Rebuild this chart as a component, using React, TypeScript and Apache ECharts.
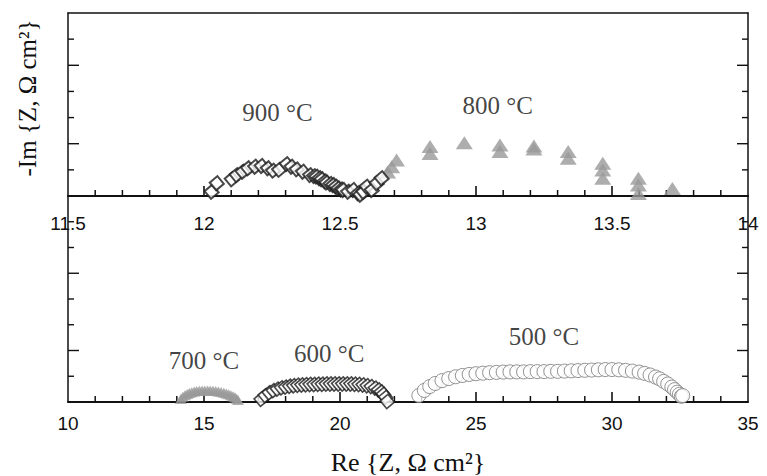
import React, { useEffect, useRef } from "react";
import * as echarts from "echarts";

// ---- Top panel (900 °C and 800 °C) ----
const re900 = [12.028, 12.047, 12.102, 12.12, 12.142, 12.162, 12.188, 12.212, 12.235, 12.254, 12.276, 12.304, 12.322, 12.341, 12.364, 12.39, 12.405, 12.414, 12.425, 12.433, 12.445, 12.451, 12.465, 12.475, 12.485, 12.494, 12.505, 12.512, 12.53, 12.549, 12.567, 12.575, 12.586, 12.598, 12.617, 12.635, 12.653];
const im900 = [0.16, 0.49, 0.64, 0.8, 0.93, 1.06, 1.12, 1.15, 1.06, 0.97, 1.0, 1.22, 1.12, 1.02, 0.93, 0.8, 0.76, 0.74, 0.68, 0.64, 0.56, 0.51, 0.46, 0.42, 0.36, 0.29, 0.25, 0.23, 0.16, 0.23, 0.1, 0.05, 0.16, 0.36, 0.23, 0.49, 0.68];

const re800 = [12.675, 12.69, 12.708, 12.831, 12.831, 12.957, 13.088, 13.088, 13.213, 13.213, 13.339, 13.339, 13.466, 13.466, 13.466, 13.597, 13.597, 13.597, 13.722];
const im800 = [0.92, 1.12, 1.38, 1.63, 1.89, 2.04, 1.7, 1.95, 1.8, 1.91, 1.44, 1.7, 0.68, 0.99, 1.25, 0.1, 0.42, 0.68, 0.29];

// ---- Bottom panel (700, 600, 500 °C) ----
const re700 = [14.15, 14.22, 14.3, 14.38, 14.46, 14.55, 14.64, 14.73, 14.83, 14.93, 15.03, 15.13, 15.23, 15.33, 15.43, 15.53, 15.63, 15.73, 15.82, 15.91, 15.99, 16.07, 16.14, 16.2, 16.25];
const im700 = [0.12, 0.2, 0.26, 0.31, 0.35, 0.38, 0.41, 0.43, 0.44, 0.45, 0.45, 0.45, 0.45, 0.44, 0.43, 0.41, 0.39, 0.36, 0.33, 0.3, 0.26, 0.22, 0.18, 0.13, 0.08];

const re600 = [17.1, 17.25, 17.4, 17.55, 17.7, 17.85, 18.0, 18.15, 18.3, 18.45, 18.6, 18.75, 18.9, 19.05, 19.2, 19.35, 19.5, 19.65, 19.8, 19.95, 20.1, 20.25, 20.4, 20.55, 20.7, 20.85, 21.0, 21.15, 21.3, 21.42, 21.52, 21.6, 21.68, 21.74];
const im600 = [0.1, 0.25, 0.36, 0.44, 0.5, 0.55, 0.58, 0.61, 0.63, 0.65, 0.66, 0.67, 0.68, 0.68, 0.69, 0.69, 0.7, 0.7, 0.7, 0.7, 0.7, 0.7, 0.7, 0.69, 0.68, 0.66, 0.63, 0.6, 0.54, 0.47, 0.39, 0.3, 0.18, 0.02];

const re500 = [22.9, 23.1, 23.3, 23.5, 23.75, 24.0, 24.25, 24.5, 24.75, 25.0, 25.25, 25.5, 25.75, 26.0, 26.25, 26.5, 26.75, 27.0, 27.25, 27.5, 27.75, 28.0, 28.25, 28.5, 28.75, 29.0, 29.25, 29.5, 29.75, 30.0, 30.25, 30.5, 30.75, 31.0, 31.2, 31.4, 31.6, 31.75, 31.9, 32.05, 32.2, 32.3, 32.4, 32.48, 32.55, 32.6];
const im500 = [0.25, 0.45, 0.6, 0.72, 0.83, 0.91, 0.98, 1.03, 1.07, 1.1, 1.12, 1.14, 1.15, 1.16, 1.17, 1.17, 1.17, 1.18, 1.18, 1.18, 1.19, 1.19, 1.2, 1.21, 1.22, 1.23, 1.24, 1.25, 1.26, 1.26, 1.25, 1.23, 1.2, 1.16, 1.11, 1.05, 0.97, 0.9, 0.8, 0.7, 0.58, 0.48, 0.38, 0.3, 0.22, 0.25];

// ---- Temperature annotations ----
const topNoteText = ["900 °C", "800 °C"];
const topNoteRe = [12.27, 13.08];
const topNoteIm = [3.2, 3.48];
const bottomNoteText = ["700 °C", "600 °C", "500 °C"];
const bottomNoteRe = [15.0, 19.6, 27.5];
const bottomNoteIm = [1.6, 1.88, 2.56];

// ---- Axis titles, ranges and tick values ----
const yTitle = "-Im {Z, Ω cm²}";
const xTitle = "Re {Z, Ω cm²}";
const topXRange = [11.5, 14];
const bottomXRange = [10, 35];
const topXMajor = [12, 12.5, 13, 13.5];
const topXMinor = [11.6, 11.7, 11.8, 11.9, 12.1, 12.2, 12.3, 12.4, 12.6, 12.7, 12.8, 12.9, 13.1, 13.2, 13.3, 13.4, 13.6, 13.7, 13.8, 13.9];
const bottomXMajor = [15, 20, 25, 30];
const bottomXMinor = [11, 12, 13, 14, 16, 17, 18, 19, 21, 22, 23, 24, 26, 27, 28, 29, 31, 32, 33, 34];
const topYMax = 7;
const bottomYMax = 8;
const yMajor = [2, 5];
const topYMinor = [1, 3, 4, 6];
const bottomYMinor = [1, 3, 4, 6, 7];

const zip = (xs: number[], ys: number[]) => xs.map((x, i) => [x, ys[i]]);

const SERIF = "'Liberation Serif', 'Times New Roman', serif";
const SANS = "'Liberation Sans', Arial, sans-serif";
const INK = "#111";

const lineOnly = (w: number) => ({ show: true, onZero: false, lineStyle: { color: INK, width: w } });

function yLines(gridIndex: number, max: number) {
  const base: any = {
    gridIndex,
    type: "value",
    min: 0,
    max,
    splitLine: { show: false },
    axisLabel: { show: false },
    axisTick: { show: false },
    axisLine: lineOnly(1.5),
  };
  return [
    { ...base, position: "left" },
    { ...base, position: "right" },
  ];
}

// tick marks: custom series whose anchor points are placed by the axes' scales
function tickSeries(xi: number, yi: number, data: number[][], dx: number, dy: number, w: number) {
  return {
    type: "custom",
    xAxisIndex: xi,
    yAxisIndex: yi,
    silent: true,
    clip: false,
    z: 5,
    data,
    renderItem: (_params: any, api: any) => {
      const p = api.coord([api.value(0), api.value(1)]);
      return {
        type: "line",
        shape: { x1: p[0], y1: p[1], x2: p[0] + dx, y2: p[1] + dy },
        style: { stroke: INK, lineWidth: w },
      };
    },
  };
}

function panelTicks(xi: number, yi: number, xr: number[], xMajor: number[], xMinor: number[], yMinor: number[]) {
  return [
    tickSeries(xi, yi, xMajor.map((v) => [v, 0]), 0, -10, 1.6),
    tickSeries(xi, yi, xMinor.map((v) => [v, 0]), 0, -6, 1.5),
    tickSeries(xi, yi, yMajor.map((v) => [xr[0], v]), 11, 0, 1.4),
    tickSeries(xi, yi, yMajor.map((v) => [xr[1], v]), -11, 0, 1.4),
    tickSeries(xi, yi, yMinor.map((v) => [xr[0], v]), 6, 0, 1.4),
    tickSeries(xi, yi, yMinor.map((v) => [xr[1], v]), -6, 0, 1.4),
  ];
}

export default function App() {
  const ref = useRef<HTMLDivElement>(null);

  useEffect(() => {
    if (!ref.current) return;
    const chart = echarts.init(ref.current, null, { renderer: "svg" });

    const labelStyle = { fontFamily: SANS, fontSize: 19, color: INK, showMinLabel: true, showMaxLabel: true };

    const option: any = {
      animation: false,
      backgroundColor: "#fff",
      grid: [
        { left: 68, right: 19, top: 13, height: 183 },
        { left: 68, right: 19, top: 196, height: 207 },
      ],
      xAxis: [
        {
          gridIndex: 0,
          type: "value",
          min: topXRange[0],
          max: topXRange[1],
          interval: 0.5,
          splitLine: { show: false },
          axisTick: { show: false },
          axisLine: lineOnly(2),
          axisLabel: { ...labelStyle, margin: 18 },
        },
        {
          gridIndex: 1,
          type: "value",
          min: bottomXRange[0],
          max: bottomXRange[1],
          interval: 5,
          splitLine: { show: false },
          axisTick: { show: false },
          axisLine: lineOnly(2),
          axisLabel: { ...labelStyle, margin: 12 },
          name: xTitle,
          nameLocation: "middle",
          nameGap: 47,
          nameTextStyle: { fontFamily: SERIF, fontSize: 26, color: INK },
        },
        {
          gridIndex: 0,
          type: "value",
          position: "top",
          min: topXRange[0],
          max: topXRange[1],
          splitLine: { show: false },
          axisTick: { show: false },
          axisLabel: { show: false },
          axisLine: lineOnly(1.5),
        },
      ],
      yAxis: [
        ...yLines(0, topYMax), // 0,1
        ...yLines(1, bottomYMax), // 2,3
      ],
      graphic: [
        {
          type: "text",
          x: 27,
          y: 98,
          rotation: Math.PI / 2,
          style: {
            text: yTitle,
            fontFamily: SERIF,
            fontSize: 25,
            fill: INK,
            align: "center",
            verticalAlign: "middle",
          },
        },
      ],
      series: [
        ...panelTicks(0, 0, topXRange, topXMajor, topXMinor, topYMinor),
        ...panelTicks(1, 2, bottomXRange, bottomXMajor, bottomXMinor, bottomYMinor),
        {
          name: "800 °C",
          type: "scatter",
          xAxisIndex: 0,
          yAxisIndex: 0,
          symbol: "triangle",
          symbolSize: [17, 13],
          z: 6,
          itemStyle: { color: "#999999" },
          data: zip(re800, im800),
        },
        {
          name: "900 °C",
          type: "scatter",
          xAxisIndex: 0,
          yAxisIndex: 0,
          symbol: "rect",
          symbolRotate: 40,
          symbolSize: 10,
          z: 6,
          itemStyle: { color: "#fff", borderColor: "#1a1a1a", borderWidth: 2 },
          data: zip(re900, im900),
        },
        {
          name: "700 °C",
          type: "scatter",
          xAxisIndex: 1,
          yAxisIndex: 2,
          symbol: "triangle",
          symbolSize: [12, 10],
          z: 6,
          itemStyle: { color: "#9a9a9a" },
          data: zip(re700, im700),
        },
        {
          name: "600 °C",
          type: "scatter",
          xAxisIndex: 1,
          yAxisIndex: 2,
          symbol: "rect",
          symbolRotate: 40,
          symbolSize: 10,
          z: 6,
          itemStyle: { color: "#fff", borderColor: "#1a1a1a", borderWidth: 1.6 },
          data: zip(re600, im600),
        },
        {
          name: "500 °C",
          type: "scatter",
          xAxisIndex: 1,
          yAxisIndex: 2,
          symbol: "circle",
          symbolSize: 14,
          z: 6,
          itemStyle: { color: "#fff", borderColor: "#777", borderWidth: 1 },
          data: zip(re500, im500),
        },
        {
          type: "scatter",
          xAxisIndex: 0,
          yAxisIndex: 0,
          symbolSize: 1,
          z: 7,
          itemStyle: { color: "transparent" },
          label: { show: true, position: "inside", formatter: (p: any) => p.name, fontFamily: SERIF, fontSize: 25, color: INK },
          data: topNoteText.map((t, i) => ({ name: t, value: [topNoteRe[i], topNoteIm[i]] })),
        },
        {
          type: "scatter",
          xAxisIndex: 1,
          yAxisIndex: 2,
          symbolSize: 1,
          z: 7,
          itemStyle: { color: "transparent" },
          label: { show: true, position: "inside", formatter: (p: any) => p.name, fontFamily: SERIF, fontSize: 25, color: INK },
          data: bottomNoteText.map((t, i) => ({ name: t, value: [bottomNoteRe[i], bottomNoteIm[i]] })),
        },
      ],
    };

    chart.setOption(option);
    return () => chart.dispose();
  }, []);

  return (
    <div
      ref={ref}
      style={{ position: "fixed", left: 0, top: 0, width: 767, height: 476, background: "#fff" }}
    />
  );
}
